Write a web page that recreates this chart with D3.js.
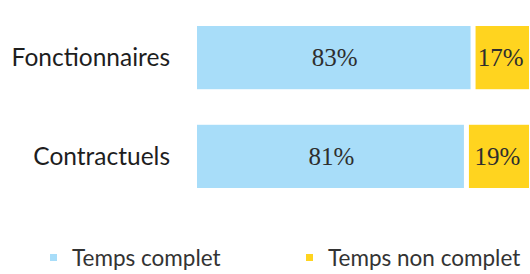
<!DOCTYPE html>
<html>
<head>
<meta charset="utf-8">
<script src="https://cdn.jsdelivr.net/npm/d3@7"></script>
<style>
  body { margin: 0; background: #fff; }
  svg { display: block; }
</style>
</head>
<body>
<div id="app"></div>
<script>
const categories = ["Fonctionnaires", "Contractuels"];
const series = ["Temps complet", "Temps non complet"];
const complet = [83, 81];
const nonComplet = [17, 19];
const colors = ["#a8ddf9", "#ffd41f"];

const w = 530, h = 274;

const svg = d3.select("#app")
  .append("svg")
  .attr("width", w)
  .attr("height", h);

const x = d3.scaleLinear().domain([0, 100]).range([197, 529]);
const y = d3.scaleBand().domain(categories).range([26, 188]).paddingInner(0.36);

const rows = categories.map((c, i) => ({
  cat: c,
  parts: [
    { s: 0, start: 0, v: complet[i] },
    { s: 1, start: complet[i], v: nonComplet[i] }
  ]
}));

const row = svg.selectAll("g.row")
  .data(rows)
  .enter()
  .append("g")
  .attr("class", "row");

// segments with a small white gap between them
row.selectAll("rect")
  .data(d => d.parts.map(p => ({ ...p, cat: d.cat })))
  .enter()
  .append("rect")
  .attr("x", d => x(d.start) + (d.s ? 3 : 0))
  .attr("y", d => y(d.cat))
  .attr("width", d => x(d.start + d.v) - x(d.start) - (d.s ? 3 : 2))
  .attr("height", y.bandwidth())
  .attr("fill", d => colors[d.s]);

row.selectAll("text.val")
  .data(d => d.parts.map(p => ({ ...p, cat: d.cat })))
  .enter()
  .append("text")
  .attr("class", "val")
  .attr("x", d => (x(d.start) + x(d.start + d.v)) / 2)
  .attr("y", d => y(d.cat) + y.bandwidth() / 2)
  .attr("dy", "0.35em")
  .attr("text-anchor", "middle")
  .attr("font-family", "'Liberation Serif', 'DejaVu Serif', serif")
  .attr("font-size", 25)
  .attr("fill", "#2e2e2e")
  .text(d => d.v + "%");

// category labels
svg.selectAll("text.cat")
  .data(categories)
  .enter()
  .append("text")
  .attr("class", "cat")
  .attr("x", 170)
  .attr("y", d => y(d) + y.bandwidth() / 2)
  .attr("dy", "0.35em")
  .attr("text-anchor", "end")
  .attr("font-family", "Lato, 'Open Sans', sans-serif")
  .attr("font-size", 24.5)
  .attr("fill", "#1e1e1e")
  .text(d => d);

// legend
const legendX = [50, 306];
const legend = svg.selectAll("g.legend")
  .data(series)
  .enter()
  .append("g")
  .attr("class", "legend")
  .attr("transform", (d, i) => `translate(${legendX[i]}, 258)`);

legend.append("rect")
  .attr("x", 0)
  .attr("y", -4)
  .attr("width", 7)
  .attr("height", 7)
  .attr("fill", (d, i) => colors[i]);

legend.append("text")
  .attr("x", 22)
  .attr("y", 0)
  .attr("dy", "0.35em")
  .attr("font-family", "Lato, 'Open Sans', sans-serif")
  .attr("font-size", 22.5)
  .attr("fill", "#333")
  .text(d => d);
</script>
</body>
</html>
